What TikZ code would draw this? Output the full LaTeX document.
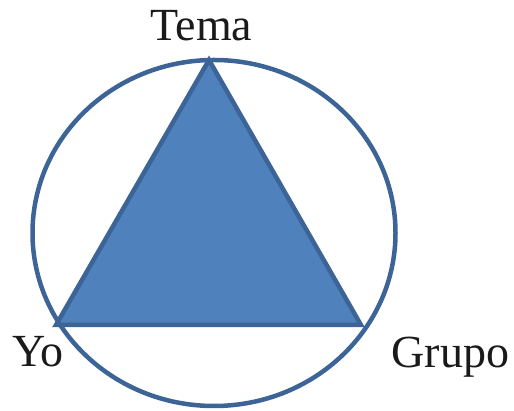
\documentclass[tikz,border=0pt]{standalone}
\usepackage{fontspec}
\setmainfont{Liberation Serif}
\usetikzlibrary{positioning}
\definecolor{rimblue}{HTML}{3C6496}
\definecolor{fillblue}{HTML}{4F81BD}
\definecolor{txtblack}{HTML}{1A1A1A}

\begin{document}
\begin{tikzpicture}[
    x=1pt, y=1pt,
    line width=4.5pt,
    vertex/.style={inner sep=0pt, minimum size=0pt},
    label/.style={font=\fontsize{46}{50}\selectfont, text=txtblack, anchor=base, inner sep=0pt},
  ]

  % Canvas
  \useasboundingbox (0,0) rectangle (514,411);

  % Outer circle
  \draw[rimblue] (214,178) ellipse (181.5 and 173);

  % Triangle corners
  \coordinate (tema) at (209,351);
  \coordinate (yo) at (56,86);
  \coordinate (grupo) at (361,86);

  % Triangle
  \filldraw[fill=fillblue, draw=rimblue, line join=miter] (tema) -- (yo) -- (grupo) -- cycle;

  % Labels
  \node[label] (temalbl) at (201.5,370) {Tema};
  \node[label] (yolbl) at (38,44) {Yo};
  \node[label] (grupolbl) at (450.5,43) {Grupo};

\end{tikzpicture}
\end{document}
